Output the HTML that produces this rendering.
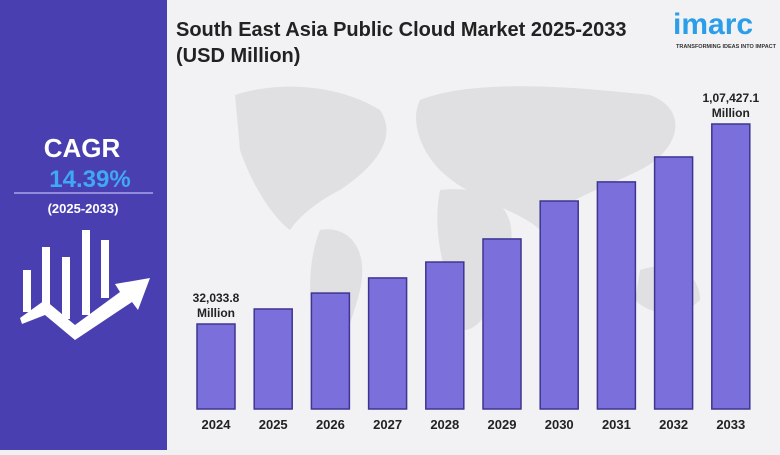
<!DOCTYPE html>
<html><head><meta charset="utf-8"><style>
body{margin:0;width:780px;height:450px;overflow:hidden;font-family:"Liberation Sans",sans-serif;background:#f1f1f3}
</style></head><body>
<svg width="780" height="450" xmlns="http://www.w3.org/2000/svg">
<rect x="0" y="0" width="780" height="450" fill="#f2f2f4"/>
<g fill="#e0e0e3">
<path d="M235,95 C280,80 340,85 380,110 C400,140 370,170 340,190 C320,200 300,215 290,230 C270,215 250,180 240,150 Z"/>
<path d="M320,230 C345,225 370,245 360,290 C350,330 335,360 325,380 C315,340 300,280 320,230 Z"/>
<path d="M420,100 C470,80 560,85 650,95 C690,110 680,150 640,170 C600,190 560,200 540,230 C520,210 470,200 440,170 C420,150 410,120 420,100 Z"/>
<path d="M440,190 C480,185 520,200 510,250 C500,300 480,330 465,330 C450,290 430,240 440,190 Z"/>
<path d="M640,270 C670,260 700,270 700,300 C680,320 650,315 635,300 Z"/>
</g>
<rect x="0" y="0" width="167" height="450" fill="#4a3fb1"/>
<text x="82" y="157" text-anchor="middle" fill="#fff" font-size="26" font-weight="bold">CAGR</text>
<text x="90" y="187" text-anchor="middle" fill="#3fa9f5" font-size="24" font-weight="bold">14.39%</text>
<line x1="14" y1="193" x2="153" y2="193" stroke="#a9a3e8" stroke-width="1.5"/>
<text x="83" y="213" text-anchor="middle" fill="#fff" font-size="13" font-weight="bold">(2025-2033)</text>
<g fill="#fff">
<rect x="23" y="270" width="8" height="42"/><rect x="42" y="247" width="8" height="65"/><rect x="62" y="257" width="8" height="62"/><rect x="82" y="230" width="8" height="85"/><rect x="101" y="240" width="8" height="58"/>
<path d="M20,318 L45,300 L75,325 L120,292 L115,284 L150,278 L138,310 L132,302 L75,340 L45,315 L22,324 Z"/>
</g>
<text x="176" y="36" fill="#222" font-size="20" font-weight="bold">South East Asia Public Cloud Market 2025-2033</text>
<text x="176" y="62" fill="#222" font-size="20" font-weight="bold">(USD Million)</text>
<text x="673" y="34" fill="#2a9ee8" font-size="30" font-weight="bold">imarc</text>
<text x="676" y="48" fill="#333" font-size="5.5" font-weight="bold">TRANSFORMING IDEAS INTO IMPACT</text>
<g id="bars"></g>
</svg>
<script>
const years=["2024","2025","2026","2027","2028","2029","2030","2031","2032","2033"];
const values=[32033.8,37700,43700,49400,55400,64100,78400,85600,95000,107427.1];
const firstLabel=["32,033.8","Million"];
const lastLabel=["1,07,427.1","Million"];
const ns="http://www.w3.org/2000/svg";
const g=document.getElementById('bars');
const base=409,scale=285/107427.1,x0=216,pitch=57.2,bw=38;
const y=v=>base-v*scale, xc=i=>x0+i*pitch;
function mk(t,a){const e=document.createElementNS(ns,t);for(const k in a)e.setAttribute(k,a[k]);g.appendChild(e);return e;}
values.forEach((v,i)=>{
 const r=mk('rect',{x:xc(i)-bw/2,y:y(v),width:bw,height:base-y(v),fill:'#7b6fdc',stroke:'#3e3590','stroke-width':1.5});
 
 
 const t=mk('text',{x:xc(i),y:429,'text-anchor':'middle','font-size':13,'font-weight':'bold',fill:'#222'});
 t.textContent=years[i];
 
 
});
[[0,firstLabel],[values.length-1,lastLabel]].forEach(([i,lab])=>{
 lab.forEach((s,j)=>{
  const t=mk('text',{x:xc(i),y:y(values[i])-22+j*15,'text-anchor':'middle','font-size':12,'font-weight':'bold',fill:'#222'});
  t.textContent=s;
  
  
 });
});
</script>
</body></html>
